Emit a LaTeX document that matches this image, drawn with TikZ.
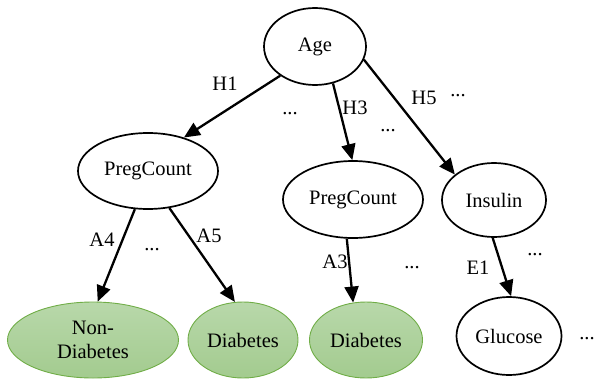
\documentclass[tikz,border=0pt]{standalone}
\usepackage{fontspec}
\setmainfont{Liberation Serif}
\usepackage{xcolor}
\usetikzlibrary{shapes,arrows.meta,positioning}
\definecolor{leafline}{RGB}{112,173,71}
\definecolor{leaftop}{RGB}{184,216,170}
\definecolor{leafbot}{RGB}{163,203,143}

\begin{document}
\begin{tikzpicture}[x=1pt,y=-1pt,>={Triangle[length=16pt,width=14pt]},line width=2.3pt,
  font=\fontsize{20.5}{24.5}\selectfont]
\tikzstyle{var}=[ellipse,draw=black,line width=1.7pt,inner sep=0pt]
\tikzstyle{leaf}=[ellipse,draw=leafline,line width=0.9pt,top color=leaftop,bottom color=leafbot,inner sep=0pt]
\tikzstyle{dots}=[anchor=base,inner sep=0pt]
\useasboundingbox (0,0) rectangle (596,380);

\node[var,minimum width=102pt,minimum height=77pt] (age) at (315,46.5) {Age};
\node[var,minimum width=140pt,minimum height=76pt] (preg1) at (148,171) {PregCount};
\node[var,minimum width=140pt,minimum height=77pt] (preg2) at (353,199.5) {PregCount};
\node[var,minimum width=104pt,minimum height=74pt] (insulin) at (494,200) {Insulin};
\node[leaf,minimum width=171pt,minimum height=76pt,align=center] (nondiab) at (93,340) {Non-\\Diabetes};
\node[leaf,minimum width=110pt,minimum height=76pt] (diab1) at (243,340) {Diabetes};
\node[leaf,minimum width=113pt,minimum height=76pt] (diab2) at (366,340) {Diabetes};
\node[var,minimum width=105pt,minimum height=78pt] (glucose) at (509,336) {Glucose};

\path[->]
  (age.220) edge (preg1.43)
  (age.296) edge (preg2.91)
  (age.345) edge (insulin.147)
  (preg1.251) edge (nondiab.83)
  (preg1.300) edge (diab1.102)
  (preg2.261) edge (diab2.109)
  (insulin.268) edge (glucose.87);

% edge labels
\node (lh1) at (225,84) {H1};
\node (lh3) at (355,108) {H3};
\node (lh5) at (424,98) {H5};
\node (la4) at (102,240) {A4};
\node (la5) at (209,236) {A5};
\node (la3) at (335,262) {A3};
\node (le1) at (478,268) {E1};

% more branches
\node[dots] (d1) at (290,114) {...};
\node[dots] (d2) at (388,131) {...};
\node[dots] (d3) at (458,96) {...};
\node[dots] (d4) at (152,250) {...};
\node[dots] (d5) at (412,268) {...};
\node[dots] (d6) at (535,255) {...};
\node[dots] (d7) at (587,339) {...};
\end{tikzpicture}
\end{document}
